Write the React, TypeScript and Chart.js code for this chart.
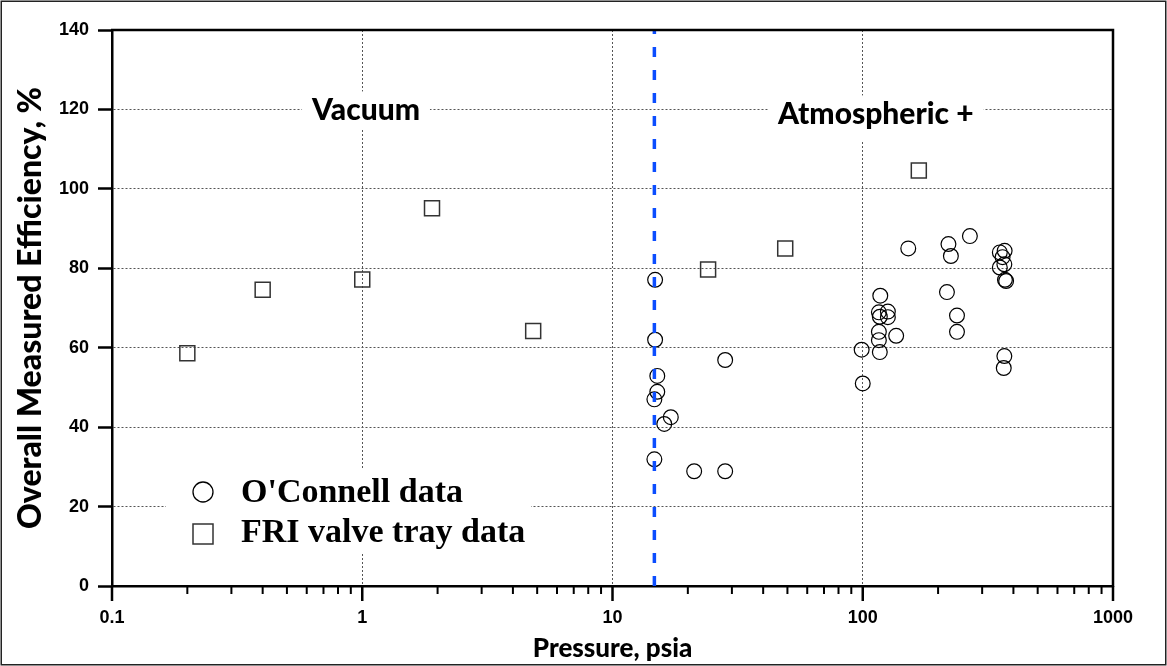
import React, { useEffect, useRef } from 'react';
import { Chart, registerables } from 'chart.js';

Chart.register(...registerables);

// ---- Data ----
const oconnellPressure = [14.8, 14.8, 15.1, 15.1, 14.7, 17.1, 16.1, 14.7, 21.2, 28.2, 28.2, 99, 100, 117.5, 116, 126, 117, 126, 116, 116, 136, 117, 217, 238, 238, 152, 220, 225, 268, 353, 369, 362, 368, 353, 370, 374, 368, 366];
const oconnellEfficiency = [77.1, 62.0, 52.9, 48.9, 47.0, 42.5, 40.8, 31.9, 28.9, 28.9, 56.9, 59.5, 51.0, 73.1, 68.9, 69.1, 67.8, 67.7, 64.0, 61.9, 63.0, 58.9, 74.0, 68.1, 64.0, 85.0, 86.1, 83.1, 88.1, 84.0, 84.4, 82.8, 81.0, 80.2, 77.1, 76.8, 57.9, 54.9];

const friPressure = [0.2, 0.4, 1.0, 1.9, 4.82, 24.1, 49, 167.5];
const friEfficiency = [58.6, 74.6, 77.2, 95.1, 64.2, 79.7, 85, 104.6];

const atmosphericLineX = [14.7, 14.7];
const atmosphericLineY = [0, 140];

const xTickValues = [0.1, 1, 10, 100, 1000];
const xTickLabels = ['0.1', '1', '10', '100', '1000'];
const minorMultipliers = [2, 3, 4, 5, 6, 7, 8, 9];

const regionLabels = ['Vacuum', 'Atmospheric +'];
const regionAnchorX = [1.035, 112.7];
const regionAnchorY = [120, 119];

const legendLabels = ["O'Connell data", 'FRI valve tray data'];

const xTitle = 'Pressure, psia';
const yTitle = 'Overall Measured Efficiency, %';

const TITLE_FONT = 'Lato, "DejaVu Sans", sans-serif';
const TICK_FONT = '"Liberation Sans", Arial, sans-serif';
const LEGEND_FONT = '"Liberation Serif", "Times New Roman", serif';

const decorPlugin = {
  id: 'decor',
  beforeDraw(chart: any) {
    const ctx = chart.ctx;
    ctx.save();
    ctx.fillStyle = '#ffffff';
    ctx.fillRect(0, 0, chart.width, chart.height);
    ctx.strokeStyle = '#222';
    ctx.lineWidth = 1.5;
    ctx.strokeRect(1.25, 1.25, chart.width - 2.5, chart.height - 2.5);
    ctx.restore();
  },
  afterDatasetsDraw(chart: any) {
    const { ctx, chartArea: a, scales } = chart;
    const xs = scales.x;
    const ys = scales.y;
    ctx.save();

    // top & right frame of plot area
    ctx.strokeStyle = '#000';
    ctx.lineWidth = 2.5;
    ctx.setLineDash([]);
    ctx.beginPath();
    ctx.moveTo(a.left - 1, a.top);
    ctx.lineTo(a.right, a.top);
    ctx.lineTo(a.right, a.bottom + 1);
    ctx.stroke();

    // x-axis tick marks (major + minor)
    for (let i = 0; i < xTickValues.length; i++) {
      const d = xTickValues[i];
      const px = xs.getPixelForValue(d);
      ctx.lineWidth = 2.5;
      ctx.beginPath();
      ctx.moveTo(px, a.bottom);
      ctx.lineTo(px, a.bottom + 15);
      ctx.stroke();
      if (i < xTickValues.length - 1) {
        for (const m of minorMultipliers) {
          const mp = xs.getPixelForValue(d * m);
          ctx.lineWidth = 2;
          ctx.beginPath();
          ctx.moveTo(mp, a.bottom);
          ctx.lineTo(mp, a.bottom + 8);
          ctx.stroke();
        }
      }
    }

    // region labels with white background
    ctx.font = '900 30px ' + TITLE_FONT;
    ctx.textAlign = 'center';
    ctx.textBaseline = 'middle';
    for (let i = 0; i < regionLabels.length; i++) {
      const cx = xs.getPixelForValue(regionAnchorX[i]);
      const cy = ys.getPixelForValue(regionAnchorY[i]);
      const w = ctx.measureText(regionLabels[i]).width;
      ctx.fillStyle = '#fff';
      ctx.fillRect(cx - w / 2 - 10, cy - 18, w + 20, 38 + (i === 1 ? 8 : 0));
      ctx.fillStyle = '#000';
      ctx.fillText(regionLabels[i], cx, cy + 1);
    }

    // legend
    const lx = a.left + 54;
    const ly = a.top + 440;
    ctx.fillStyle = '#fff';
    ctx.fillRect(lx, ly, 365, 83);
    ctx.strokeStyle = '#000';
    ctx.lineWidth = 1.3;
    ctx.beginPath();
    ctx.arc(lx + 37, ly + 22, 10, 0, Math.PI * 2);
    ctx.stroke();
    ctx.strokeStyle = '#333';
    ctx.lineWidth = 1.5;
    ctx.strokeRect(lx + 27, ly + 54, 20, 20);
    ctx.fillStyle = '#000';
    ctx.font = 'bold 34px ' + LEGEND_FONT;
    ctx.textAlign = 'left';
    ctx.textBaseline = 'alphabetic';
    ctx.fillText(legendLabels[0], lx + 75, ly + 32);
    ctx.fillText(legendLabels[1], lx + 75, ly + 72);

    ctx.restore();
  },
};

export default function App() {
  const canvasRef = useRef<HTMLCanvasElement | null>(null);

  useEffect(() => {
    const canvas = canvasRef.current;
    if (!canvas) return;

    const oconnellData = oconnellPressure.map((p, i) => ({ x: p, y: oconnellEfficiency[i] }));
    const friData = friPressure.map((p, i) => ({ x: p, y: friEfficiency[i] }));
    const lineData = atmosphericLineX.map((p, i) => ({ x: p, y: atmosphericLineY[i] }));

    const gridColor = '#555';

    const chart = new Chart(canvas, {
      type: 'scatter',
      data: {
        datasets: [
          {
            type: 'line',
            label: 'Atmospheric',
            data: lineData,
            borderColor: '#0b4dff',
            borderWidth: 3.5,
            borderDash: [10, 13],
            pointRadius: 0,
            showLine: true,
            fill: false,
          } as any,
          {
            label: legendLabels[0],
            data: oconnellData,
            pointStyle: 'circle',
            pointRadius: 7.4,
            pointBorderWidth: 1.2,
            pointBorderColor: '#000',
            pointBackgroundColor: 'rgba(0,0,0,0)',
          },
          {
            label: legendLabels[1],
            data: friData,
            pointStyle: 'rect',
            pointRadius: 10.6,
            pointBorderWidth: 1.5,
            pointBorderColor: '#333',
            pointBackgroundColor: 'rgba(0,0,0,0)',
          },
        ],
      },
      options: {
        responsive: false,
        animation: false,
        devicePixelRatio: 1,
        layout: { padding: { top: 30, right: 54, left: 0, bottom: 0 } },
        plugins: {
          legend: { display: false },
          tooltip: { enabled: false },
        },
        scales: {
          x: {
            type: 'logarithmic',
            min: 0.1,
            max: 1000,
            afterBuildTicks: (scale: any) => {
              scale.ticks = xTickValues.map((v) => ({ value: v }));
            },
            afterFit: (scale: any) => {
              scale.height = 80;
            },
            ticks: {
              autoSkip: false,
              maxRotation: 0,
              padding: 21,
              color: '#000',
              font: { family: TICK_FONT, weight: 'bold', size: 18 },
              callback: (_v: any, i: number) => xTickLabels[i],
            },
            grid: {
              drawTicks: false,
              color: gridColor,
              lineWidth: 1,
              borderDash: [2, 2],
            } as any,
            border: { display: true, color: '#000', width: 2.5, dash: [2, 2] },
            title: {
              display: true,
              text: xTitle,
              color: '#000',
              font: { family: TITLE_FONT, weight: 900, size: 26 },
              padding: { top: 0, bottom: 2 },
            },
          },
          y: {
            type: 'linear',
            min: 0,
            max: 140,
            afterFit: (scale: any) => {
              scale.width = 112;
            },
            ticks: {
              stepSize: 20,
              padding: 9,
              color: '#000',
              font: { family: TICK_FONT, weight: 'bold', size: 18 },
            },
            grid: {
              drawTicks: true,
              tickLength: 14,
              tickWidth: 2.5,
              tickColor: '#000',
              tickBorderDash: [],
              color: gridColor,
              lineWidth: 1,
              borderDash: [2, 2],
            } as any,
            border: { display: true, color: '#000', width: 2.5, dash: [2, 2] },
            title: {
              display: true,
              text: yTitle,
              color: '#000',
              font: { family: TITLE_FONT, weight: 900, size: 32 },
              padding: { top: 11, bottom: 0 },
            },
          },
        },
      },
      plugins: [decorPlugin],
    });

    return () => chart.destroy();
  }, []);

  return (
    <div style={{ position: 'fixed', left: 0, top: 0, width: 1167, height: 666, background: '#fff' }}>
      <canvas ref={canvasRef} width={1167} height={666} style={{ display: 'block', width: 1167, height: 666 }} />
    </div>
  );
}
